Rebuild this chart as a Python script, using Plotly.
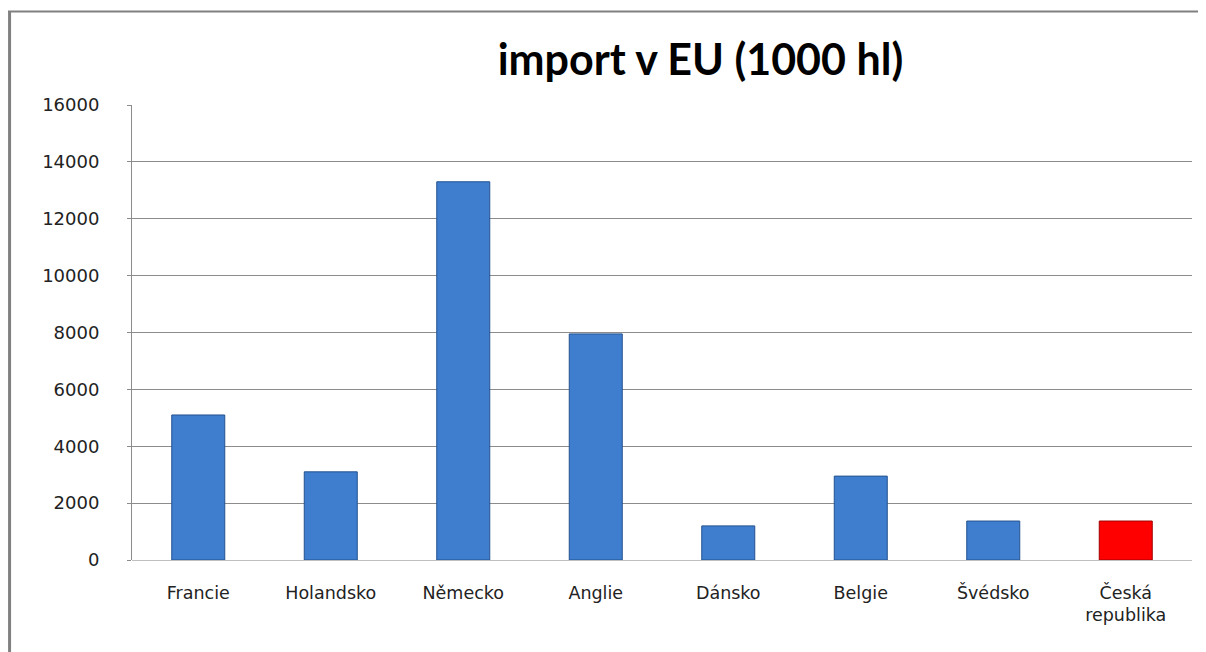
import plotly.graph_objects as go

# data
zeme = ['Francie', 'Holandsko', 'Německo', 'Anglie', 'Dánsko', 'Belgie', 'Švédsko', 'Česká<br>republika']
import_hl = [5100, 3100, 13300, 7950, 1200, 2950, 1370, 1370]
barvy = ['#3F7ECF'] * 7 + ['#FF0000']
okraje = ['#23528F'] * 7 + ['#A00000']
y_ticks = [0, 2000, 4000, 6000, 8000, 10000, 12000, 14000, 16000]

fig = go.Figure()
fig.add_trace(go.Bar(
    x=zeme, y=import_hl,
    marker=dict(color=barvy, line=dict(color=okraje, width=1)),
    width=0.4,
))

# stranka ma 8px okraj, proto je graf o 8px mensi
fig.update_layout(
    width=1198, height=644,
    margin=dict(l=124, r=14, t=97, b=92),
    paper_bgcolor='white', plot_bgcolor='white',
    showlegend=False,
    font=dict(family='DejaVu Sans', size=17, color='#222222'),
    title=dict(text='<b>import v EU (1000 hl)</b>', x=0.578, xanchor='center',
               y=0.92, yanchor='middle',
               font=dict(family='Lato', size=43, color='black')),
    xaxis=dict(showgrid=False, showline=False, ticks='', ticklabelstandoff=20,
               tickfont=dict(size=17.5, color='#222222')),
    yaxis=dict(range=[0, 16000], tickvals=y_ticks, tickformat='d', showgrid=True,
               gridcolor='#8C8C8C', gridwidth=1,
               zeroline=True, zerolinecolor='#BFBFBF', zerolinewidth=1,
               showline=True, linecolor='#8C8C8C', linewidth=1,
               ticks='outside', ticklen=4, tickcolor='#8C8C8C',
               ticklabelstandoff=24, tickfont=dict(size=18, color='#222222')),
    shapes=[
        dict(type='line', xref='paper', yref='paper', x0=-0.1155, x1=-0.1155,
             y0=1.2055, y1=-0.25, line=dict(color='#808080', width=3)),
        dict(type='line', xref='paper', yref='paper', x0=-0.117, x1=1.02,
             y0=1.2055, y1=1.2055, line=dict(color='#808080', width=2)),
    ],
)

fig.write_html("out.html")
